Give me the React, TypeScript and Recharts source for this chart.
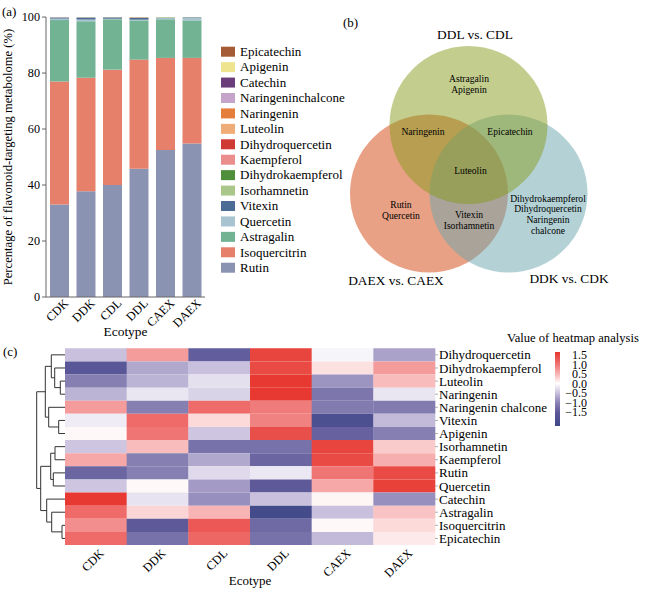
import React from 'react';
import {
  BarChart, Bar, XAxis, YAxis, Cell, Label, ScatterChart, Scatter, ReferenceLine,
} from 'recharts';

const FONT = "'Liberation Serif', 'Times New Roman', Times, serif";

// ---------- (a) stacked bar data ----------
const ecotypes = ['CDK', 'DDK', 'CDL', 'DDL', 'CAEX', 'DAEX'];
// stack order, bottom to top
const flavonoids = [
  'Rutin', 'Isoquercitrin', 'Astragalin', 'Quercetin', 'Vitexin', 'Isorhamnetin',
  'Dihydrokaempferol', 'Kaempferol', 'Dihydroquercetin', 'Luteolin', 'Naringenin',
  'Naringeninchalcone', 'Catechin', 'Apigenin', 'Epicatechin',
];
const flavColors = [
  '#8b93b3', '#e6806a', '#72b394', '#a8c4d0', '#4b6c94', '#abc68a',
  '#4f8f3b', '#e98d8d', '#d03a35', '#f0ac76', '#e57d3b',
  '#c4a4c9', '#6b3e7b', '#eee38f', '#a55b35',
];
const pctRutin = [33.0, 37.8, 40.0, 45.8, 52.5, 54.8];
const pctIsoquercitrin = [44.0, 40.5, 41.2, 39.0, 32.9, 30.6];
const pctAstragalin = [21.9, 20.2, 18.0, 14.0, 13.8, 13.4];
const pctQuercetin = [0.55, 0.6, 0.2, 0.25, 0.4, 0.85];
const pctVitexin = [0.35, 0.7, 0.45, 0.6, 0.1, 0.2];
const pctIsorhamnetin = [0.05, 0.08, 0.05, 0.1, 0.22, 0.08];
const pctDihydrokaempferol = [0.02, 0.03, 0.02, 0.08, 0.02, 0.02];
const pctKaempferol = [0.03, 0.03, 0.02, 0.03, 0.02, 0.02];
const pctDihydroquercetin = [0.02, 0.02, 0.02, 0.05, 0.01, 0.01];
const pctLuteolin = [0.01, 0.01, 0.01, 0.02, 0.01, 0.01];
const pctNaringenin = [0.01, 0.01, 0.01, 0.01, 0.005, 0.005];
const pctNaringeninchalcone = [0.02, 0.01, 0.01, 0.01, 0.005, 0.005];
const pctCatechin = [0.02, 0.005, 0.005, 0.01, 0.005, 0.005];
const pctApigenin = [0.01, 0.005, 0.005, 0.01, 0.005, 0.005];
const pctEpicatechin = [0.01, 0.01, 0.01, 0.03, 0.005, 0.005];
const pctSeries = [
  pctRutin, pctIsoquercitrin, pctAstragalin, pctQuercetin, pctVitexin, pctIsorhamnetin,
  pctDihydrokaempferol, pctKaempferol, pctDihydroquercetin, pctLuteolin, pctNaringenin,
  pctNaringeninchalcone, pctCatechin, pctApigenin, pctEpicatechin,
];
const pctTicks = [0, 20, 40, 60, 80, 100];

const stackData = ecotypes.map((e, i) => {
  const row: Record<string, any> = { name: e };
  flavonoids.forEach((f, k) => { row[f] = pctSeries[k][i]; });
  return row;
});

// ---------- (b) Venn data ----------
const vennSets = ['DDL vs. CDL', 'DAEX vs. CAEX', 'DDK vs. CDK'];
const vennRegionItems = [
  ['Astragalin', 'Apigenin'],
  ['Naringenin'],
  ['Epicatechin'],
  ['Luteolin'],
  ['Rutin', 'Quercetin'],
  ['Vitexin', 'Isorhamnetin'],
  ['Dihydrokaempferol', 'Dihydroquercetin', 'Naringenin', 'chalcone'],
];

// ---------- (c) heatmap data ----------
const heatRows = [
  'Dihydroquercetin', 'Dihydrokaempferol', 'Luteolin', 'Naringenin', 'Naringenin chalcone',
  'Vitexin', 'Apigenin', 'Isorhamnetin', 'Kaempferol', 'Rutin', 'Quercetin', 'Catechin',
  'Astragalin', 'Isoquercitrin', 'Epicatechin',
];
const heatCDK = [-0.5, -1.6, -1.05, -0.6, 0.7, -0.15, 0.05, -0.45, 0.6, -1.35, -0.45, 1.65, 1.1, 0.8, 1.1];
const heatDDK = [0.7, -0.7, -0.6, -0.2, -1.05, 1.1, 1.0, 0.45, -1.05, -1.05, 0.05, -0.22, 0.28, -1.5, -1.2];
const heatCDL = [-1.45, -0.5, -0.25, -0.35, 1.1, 0.25, -0.45, -1.2, -0.7, -0.3, -0.8, -0.9, 0.5, 1.3, 1.15];
const heatDDL = [1.5, 1.45, 1.65, 1.65, 0.95, 0.9, 1.4, -1.2, -1.35, -0.18, -1.5, -0.5, -2.1, -1.3, -1.2];
const heatCAEX = [-0.08, 0.2, -0.85, -1.15, -1.1, -1.9, -1.4, 1.5, 1.45, 1.0, 0.6, 0.07, -0.5, 0.05, -0.55];
const heatDAEX = [-0.75, 0.7, 0.45, -0.2, -1.1, -0.55, -1.05, 0.35, 0.55, 1.45, 1.55, -0.9, 0.4, 0.25, 0.15];
const heatCols = [heatCDK, heatDDK, heatCDL, heatDDL, heatCAEX, heatDAEX];
const colorbarTicks = [-1.5, -1.0, -0.5, 0.0, 0.5, 1.0, 1.5];
const colorbarMin = -2.24;
const colorbarMax = 1.66;

// dendrogram (hclust-style merges: negative = leaf (1-based), positive = earlier merge)
const mergeLeft = [-3, -2, -1, -6, -5, 3, -8, -10, 7, -14, -13, -12, 9, 6];
const mergeRight = [-4, 1, 2, -7, 4, 5, -9, -11, 8, -15, 10, 11, 12, 13];
const mergeHeight = [4.7, 10.3, 13.7, 6.3, 16.3, 19.7, 10.0, 11.7, 14.3, 3.0, 13.3, 18.3, 24.3, 28.3];

// ---------- helpers ----------
const heatStops: [number, number[]][] = [
  [-2.25, [60, 71, 136]],
  [-1.5, [94, 89, 153]],
  [-1.0, [138, 131, 181]],
  [-0.5, [201, 192, 221]],
  [0, [255, 255, 255]],
  [0.5, [248, 180, 180]],
  [1.0, [239, 117, 117]],
  [1.5, [232, 69, 63]],
  [1.7, [230, 52, 44]],
];
function rgb(c: number[]) {
  return `rgb(${c.map((x) => Math.round(x)).join(',')})`;
}
function heatColor(v: number): string {
  if (v <= heatStops[0][0]) return rgb(heatStops[0][1]);
  for (let i = 1; i < heatStops.length; i++) {
    const [v1, c1] = heatStops[i];
    const [v0, c0] = heatStops[i - 1];
    if (v <= v1) {
      const t = (v - v0) / (v1 - v0);
      return rgb(c0.map((c, k) => c + (c1[k] - c) * t));
    }
  }
  return rgb(heatStops[heatStops.length - 1][1]);
}

const heatData = ecotypes.map((e) => {
  const row: Record<string, any> = { name: e };
  heatRows.forEach((_, r) => { row['r' + r] = 1; });
  return row;
});

function dendroSegments() {
  const nodes: { h: number; y: number }[] = [];
  const pos = (id: number) => (id < 0 ? { h: 0, y: -id - 1 + 0.5 } : nodes[id - 1]);
  const segs: number[][] = [];
  mergeLeft.forEach((l, i) => {
    const a = pos(l);
    const b = pos(mergeRight[i]);
    const h = mergeHeight[i];
    segs.push([h, a.y, h, b.y]);
    segs.push([a.h, a.y, h, a.y]);
    segs.push([b.h, b.y, h, b.y]);
    nodes.push({ h, y: (a.y + b.y) / 2 });
  });
  return segs;
}

const RotTick = (props: any) => {
  const { x, y, payload, ox, oy, fs } = props;
  const tx = x + ox;
  const ty = y + oy;
  return (
    <text x={tx} y={ty} transform={`rotate(-45 ${tx} ${ty})`} textAnchor="end" fontSize={fs} fill="#000">
      {payload.value}
    </text>
  );
};

const RowTick = (props: any) => {
  const { x, y, payload } = props;
  return (
    <g>
      <line x1={x - 4} y1={y} x2={x - 1} y2={y} stroke="#999" strokeWidth={0.8} />
      <text x={x} y={y} dy="0.35em" textAnchor="start" fontSize={13} fill="#000">
        {heatRows[Math.floor(payload.value)]}
      </text>
    </g>
  );
};

const minus = (v: number) => (v < 0 ? '\u2212' + Math.abs(v).toFixed(1) : v.toFixed(1));

// ---------- panels ----------
function PanelA() {
  return (
    <BarChart width={210} height={340} data={stackData} margin={{ top: 17, right: 5, bottom: 0, left: 0 }} barSize={19}>
      <XAxis
        dataKey="name"
        height={43}
        interval={0}
        tickSize={0}
        tickMargin={0}
        tickLine={false}
        axisLine={{ stroke: '#666' }}
        tick={(p: any) => <RotTick {...p} ox={10} oy={7} fs={12.2} />}
      >
        <Label value="Ecotype" position="insideBottom" offset={4} style={{ fontSize: 13.4, fill: '#000' }} />
      </XAxis>
      <YAxis
        width={46}
        type="number"
        domain={[0, 100]}
        ticks={pctTicks}
        interval={0}
        tickSize={4}
        tickMargin={2}
        axisLine={{ stroke: '#666' }}
        tickLine={{ stroke: '#666' }}
        tick={{ fill: '#000', fontSize: 12.2 }}
      >
        <Label
          value="Percentage of flavonoid-targeting metabolome (%)"
          angle={-90}
          position="insideLeft"
          offset={8}
          style={{ textAnchor: 'middle', fontSize: 12.6, fill: '#000' }}
        />
      </YAxis>
      {flavonoids.map((f, i) => (
        <Bar key={f} dataKey={f} stackId="s" fill={flavColors[i]} isAnimationActive={false} />
      ))}
    </BarChart>
  );
}

// Venn layout (local px coords of the venn chart, which sits at left 340)
const vennCircleLayout = [
  { x: 89, y: 193.5, r: 79, fill: '#d3430b' },   // DAEX vs CAEX (red)
  { x: 168.5, y: 193.5, r: 79, fill: '#69a5ad' }, // DDK vs CDK (blue)
  { x: 128.5, y: 125, r: 79, fill: '#879b1d' },   // DDL vs CDL (green)
];
const vennTitleLayout = [
  { x: 135, y: 39 },
  { x: 56, y: 285 },
  { x: 229, y: 283 },
];
const vennRegionLayout = [
  { x: 129, y: 82 },
  { x: 83, y: 135 },
  { x: 170, y: 135 },
  { x: 130.5, y: 174 },
  { x: 61, y: 208 },
  { x: 129, y: 218 },
  { x: 208, y: 201.5 },
];
const VENN_W = 310;
const VENN_H = 300;

function PanelB() {
  const unit = VENN_W / VENN_W;
  const circles = vennCircleLayout.map((c) => ({ ...c }));
  const titles = vennSets.map((s, i) => ({ ...vennTitleLayout[i], lines: [s], fs: 13.4 }));
  const regions = vennRegionItems.map((items, i) => ({ ...vennRegionLayout[i], lines: items, fs: 9.6 }));
  const circleShape = (p: any) => (
    <circle cx={p.cx} cy={p.cy} r={p.payload.r * unit} fill={p.payload.fill} fillOpacity={0.5} />
  );
  const textShape = (p: any) => (
    <text x={p.cx} y={p.cy} textAnchor="middle" fontSize={p.payload.fs} fill="#000">
      {p.payload.lines.map((l: string, k: number) => (
        <tspan key={k} x={p.cx} dy={k === 0 ? 0 : 10.8}>{l}</tspan>
      ))}
    </text>
  );
  return (
    <ScatterChart width={VENN_W} height={VENN_H} margin={{ top: 0, right: 0, bottom: 0, left: 0 }}>
      <XAxis type="number" dataKey="x" domain={[0, VENN_W]} hide />
      <YAxis type="number" dataKey="y" domain={[0, VENN_H]} reversed hide />
      <Scatter data={circles} shape={circleShape} isAnimationActive={false} />
      <Scatter data={regions} shape={textShape} isAnimationActive={false} />
      <Scatter data={titles} shape={textShape} isAnimationActive={false} />
    </ScatterChart>
  );
}

function PanelCHeat() {
  const rowTicks = heatRows.map((_, i) => i + 0.5);
  return (
    <BarChart width={560} height={260} data={heatData} margin={{ top: 18.3, right: 0, bottom: 0, left: 65 }} barCategoryGap={0}>
      <XAxis
        dataKey="name"
        height={45}
        interval={0}
        axisLine={false}
        tickLine={false}
        tickSize={0}
        tickMargin={0}
        tick={(p: any) => <RotTick {...p} ox={9} oy={9} fs={12.2} />}
      >
        <Label value="Ecotype" position="insideBottom" offset={5} style={{ fontSize: 13, fill: '#000' }} />
      </XAxis>
      <YAxis
        orientation="right"
        width={125}
        type="number"
        domain={[0, 15]}
        reversed
        ticks={rowTicks}
        interval={0}
        axisLine={false}
        tickLine={false}
        tickSize={4}
        tickMargin={0}
        tick={(p: any) => <RowTick {...p} />}
      />
      {heatRows.map((r, ri) => (
        <Bar key={r} dataKey={'r' + ri} stackId="h" isAnimationActive={false}>
          {ecotypes.map((e, ci) => (
            <Cell key={e} fill={heatColor(heatCols[ci][ri])} />
          ))}
        </Bar>
      ))}
    </BarChart>
  );
}

function PanelCDendro() {
  const segs = dendroSegments();
  const leaves = heatRows.map((_, i) => ({ h: 0, y: i + 0.5 }));
  return (
    <ScatterChart width={30} height={260} margin={{ top: 18.3, right: 0, bottom: 45, left: 0 }}>
      <XAxis type="number" dataKey="h" domain={[0, 30]} reversed hide />
      <YAxis type="number" dataKey="y" domain={[0, 15]} reversed hide />
      <Scatter data={leaves} shape={() => <g />} isAnimationActive={false} />
      {segs.map((s, i) => (
        <ReferenceLine
          key={i}
          segment={[{ x: s[0], y: s[1] }, { x: s[2], y: s[3] }]}
          stroke="#333"
          strokeWidth={1}
          ifOverflow="visible"
        />
      ))}
    </ScatterChart>
  );
}

function PanelCColorbar() {
  const span = colorbarMax - colorbarMin;
  const gradStops = heatStops
    .filter(([v]) => v >= colorbarMin - 0.02 && v <= colorbarMax + 0.05)
    .map(([v]) => v)
    .concat([colorbarMin, colorbarMax])
    .sort((a, b) => b - a);
  const cbTick = (p: any) => (
    <text x={p.x + 27} y={p.y} dy="0.35em" textAnchor="end" fontSize={12} fill="#000">
      {minus(p.payload.value)}
    </text>
  );
  return (
    <BarChart
      width={80}
      height={100}
      data={[{ name: 'cb', range: [colorbarMin, colorbarMax] }]}
      margin={{ top: 12, right: 0, bottom: 14, left: 15 }}
      barCategoryGap={0}
    >
      <defs>
        <linearGradient id="hmGrad" x1="0" y1="0" x2="0" y2="1">
          {gradStops.map((v, i) => (
            <stop key={i} offset={`${((colorbarMax - v) / span) * 100}%`} stopColor={heatColor(v)} />
          ))}
        </linearGradient>
      </defs>
      <XAxis dataKey="name" hide />
      <YAxis
        orientation="right"
        width={60}
        type="number"
        domain={[colorbarMin, colorbarMax]}
        ticks={colorbarTicks}
        interval={0}
        axisLine={false}
        tickLine={false}
        tickSize={0}
        tickMargin={0}
        tick={cbTick}
      />
      <Bar dataKey="range" fill="url(#hmGrad)" isAnimationActive={false} />
    </BarChart>
  );
}

function Overlay() {
  const legendItems = flavonoids.map((f, i) => ({ name: f, color: flavColors[i] })).reverse();
  return (
    <svg width={650} height={590} style={{ position: 'absolute', left: 0, top: 0, pointerEvents: 'none' }}>
      <text x={2} y={16} fontSize={13} fill="#000">(a)</text>
      <text x={343} y={27} fontSize={13} fill="#000">(b)</text>
      <text x={3} y={356} fontSize={13} fill="#000">(c)</text>
      {legendItems.map((it, i) => (
        <g key={it.name}>
          <rect x={221} y={46.7 + i * 15.43} width={14} height={10} fill={it.color} />
          <text x={240} y={56 + i * 15.43} fontSize={13} fill="#000">{it.name}</text>
        </g>
      ))}
      <text x={507} y={342} fontSize={12.6} fill="#000">Value of heatmap analysis</text>
    </svg>
  );
}

export default function App() {
  return (
    <div style={{ position: 'absolute', left: 0, top: 0, width: 650, height: 590, background: '#fff', fontFamily: FONT, overflow: 'hidden' }}>
      <div style={{ position: 'absolute', left: 0, top: 0 }}><PanelA /></div>
      <div style={{ position: 'absolute', left: 340, top: 0 }}><PanelB /></div>
      <div style={{ position: 'absolute', left: 0, top: 330 }}><PanelCHeat /></div>
      <div style={{ position: 'absolute', left: 35, top: 330 }}><PanelCDendro /></div>
      <div style={{ position: 'absolute', left: 540, top: 340 }}><PanelCColorbar /></div>
      <Overlay />
    </div>
  );
}
